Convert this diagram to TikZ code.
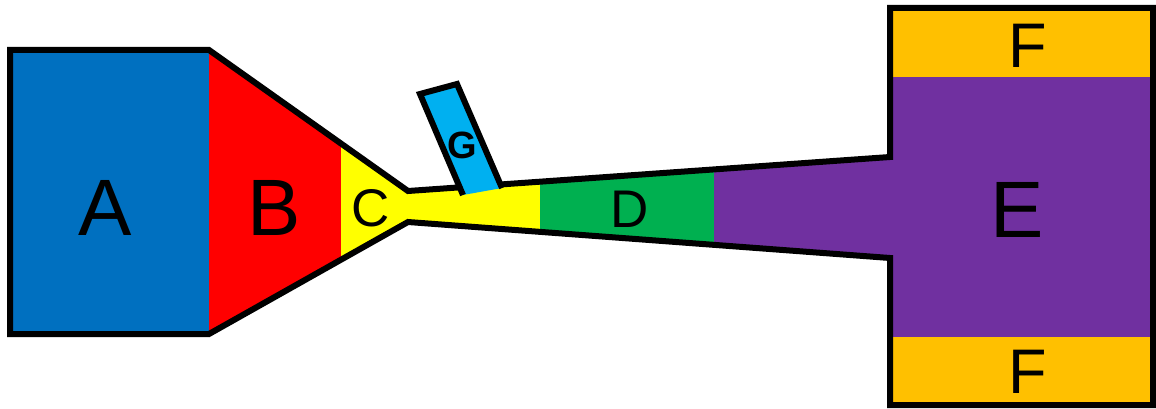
\documentclass[tikz,border=0pt]{standalone}
\usepackage{fontspec}
\setmainfont{Liberation Sans}
\usepackage{tikz}
\usetikzlibrary{calc, positioning}
\definecolor{partA}{HTML}{0070C0}
\definecolor{partB}{HTML}{FF0000}
\definecolor{partC}{HTML}{FFFF00}
\definecolor{partD}{HTML}{00B050}
\definecolor{partE}{HTML}{7030A0}
\definecolor{partF}{HTML}{FFC000}
\definecolor{partG}{HTML}{00B0F0}

\begin{document}
\begin{tikzpicture}[
        x=1pt, y=-1pt,
        outline/.style={draw=black, line width=6pt, line join=miter},
        big/.style={font=\fontsize{80}{80}\selectfont, inner sep=0pt},
        mid/.style={font=\fontsize{53}{53}\selectfont, inner sep=0pt},
        small/.style={font=\fontsize{63}{63}\selectfont, inner sep=0pt},
        tiny/.style={font=\fontsize{38}{38}\selectfont\bfseries, inner sep=0pt}
    ]
        \useasboundingbox (0,0) rectangle (1156,409);

        % Corner points
        \coordinate (a1) at (10,50);
        \coordinate (a2) at (209,50);
        \coordinate (a3) at (209,334);
        \coordinate (a4) at (10,334);
        \coordinate (n1) at (408,191);
        \coordinate (n2) at (408,222);
        \coordinate (e1) at (890,157);
        \coordinate (e2) at (890,258);
        \coordinate (c1) at ($(a2)!0.6633!(n1)$);
        \coordinate (c2) at ($(a3)!0.6633!(n2)$);
        \coordinate (d1) at ($(n1)!0.2739!(e1)$);
        \coordinate (d2) at ($(n2)!0.2739!(e2)$);
        \coordinate (d3) at ($(n1)!0.6349!(e1)$);
        \coordinate (d4) at ($(n2)!0.6349!(e2)$);

        % Fills
        \fill[partA] (a1) rectangle (a3);
        \fill[partB] (a2) -- (c1) -- (c2) -- (a3) -- cycle;
        \fill[partC] (c1) -- (n1) -- (d1) -- (d2) -- (n2) -- (c2) -- cycle;
        \fill[partD] (d1) -- (d3) -- (d4) -- (d2) -- cycle;
        \fill[partE] (d3) -- (e1) -- (890,77) -- (1153,77) -- (1153,337)
            -- (890,337) -- (e2) -- (d4) -- cycle;
        \fill[partF] (890,8) rectangle (1153,77);
        \fill[partF] (890,337) rectangle (1153,405);

        % Outline
        \draw[outline] (a1) -- (a2) -- (n1) -- (e1) -- (890,8) -- (1153,8)
            -- (1153,405) -- (890,405) -- (e2) -- (n2) -- (a3) -- (a4) -- cycle;

        % Side tube
        \coordinate (g1) at (463,195);
        \coordinate (g2) at (420,94);
        \coordinate (g3) at (457,84);
        \coordinate (g4) at (502,188);
        \fill[partG] (g1) -- (g2) -- (g3) -- (g4) -- cycle;
        \draw[outline] (g1) -- (g2) -- (g3) -- (g4);

        % Labels
        \node[big] (la) at (105,208) {A};
        \node[big] (lb) at (274,208) {B};
        \node[mid] (lc) at (371,208) {C};
        \node[mid] (ld) at (630,209) {D};
        \node[big] (le) at (1017,210) {E};
        \node[small] (lf1) at (1028,46) {F};
        \node[small] (lf2) at (1028,372) {F};
        \node[tiny] (lg) at (462,145) {G};
    \end{tikzpicture}
\end{document}
